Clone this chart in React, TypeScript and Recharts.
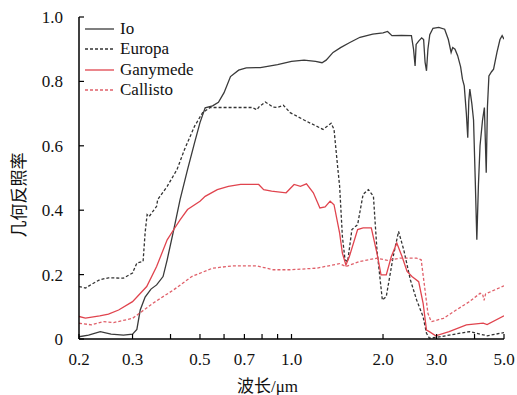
import { LineChart, Line, XAxis, YAxis } from "recharts";

// wavelength (μm) and geometric albedo
const ioWave = [
  0.2, 0.215, 0.235, 0.255, 0.28, 0.3, 0.31, 0.318, 0.33, 0.345, 0.36, 0.378, 0.39, 0.41, 0.43,
  0.455, 0.48, 0.5, 0.52, 0.55, 0.575, 0.6, 0.63, 0.67, 0.71, 0.79, 0.9, 1.0, 1.1, 1.2, 1.26,
  1.3, 1.37, 1.45, 1.55, 1.68, 1.85, 2.0, 2.07, 2.14, 2.3, 2.48, 2.52, 2.55, 2.57, 2.62, 2.68,
  2.72, 2.75, 2.78, 2.81, 2.85, 2.92, 3.05, 3.19, 3.28, 3.35, 3.39, 3.45, 3.52, 3.6, 3.65, 3.7,
  3.76, 3.8, 3.83, 3.86, 3.92, 3.97, 4.02, 4.07, 4.12, 4.17, 4.25, 4.31, 4.34, 4.37, 4.41, 4.46,
  4.55, 4.62, 4.74, 4.85, 4.93, 5.0,
];
const ioAlbedo = [
  0.007, 0.012, 0.023, 0.015, 0.012, 0.015, 0.03, 0.09, 0.13, 0.155, 0.168, 0.194, 0.246, 0.34, 0.433,
  0.526, 0.61, 0.672, 0.718, 0.724, 0.735, 0.765, 0.815, 0.835, 0.842, 0.843, 0.852, 0.862, 0.866, 0.862, 0.858,
  0.866, 0.89, 0.905, 0.92, 0.937, 0.947, 0.951, 0.955, 0.942, 0.943, 0.942, 0.9, 0.848, 0.915, 0.925, 0.935,
  0.93, 0.86, 0.833, 0.9, 0.945, 0.965, 0.968, 0.962, 0.93, 0.89, 0.905, 0.9, 0.88, 0.845, 0.807, 0.786,
  0.7, 0.625, 0.74, 0.776, 0.73, 0.68, 0.5, 0.308, 0.48, 0.6, 0.68, 0.719, 0.62, 0.516, 0.72, 0.817,
  0.83, 0.838, 0.89, 0.93, 0.942, 0.931,
];

const europaWave = [
  0.2, 0.21, 0.22, 0.234, 0.25, 0.28, 0.3, 0.31, 0.325, 0.33, 0.335, 0.34, 0.36, 0.363, 0.39, 0.42,
  0.445, 0.48, 0.51, 0.54, 0.64, 0.74, 0.77, 0.78, 0.82, 0.87, 0.9, 0.94, 0.99, 1.1, 1.27, 1.35,
  1.38, 1.42, 1.44, 1.47, 1.5, 1.53, 1.58, 1.65, 1.72, 1.79, 1.86, 1.91, 1.99, 2.05, 2.16, 2.25,
  2.34, 2.46, 2.58, 2.71, 2.78, 2.84, 3.0, 3.3, 3.85, 4.4, 5.0,
];
const europaAlbedo = [
  0.163, 0.158, 0.17, 0.184, 0.19, 0.189, 0.205, 0.236, 0.241, 0.33, 0.386, 0.38, 0.412, 0.433, 0.474, 0.526,
  0.589, 0.661, 0.703, 0.719, 0.719, 0.719, 0.712, 0.72, 0.736, 0.72, 0.719, 0.726, 0.703, 0.68, 0.651, 0.67,
  0.651, 0.53, 0.474, 0.319, 0.246, 0.24, 0.34, 0.355, 0.449, 0.464, 0.443, 0.277, 0.121, 0.132, 0.256, 0.334,
  0.277, 0.184, 0.121, 0.069, 0.018, 0.003, 0.005, 0.012, 0.023, 0.01, 0.02,
];

const ganymedeWave = [
  0.2, 0.21, 0.234, 0.25, 0.27, 0.3, 0.334, 0.36, 0.39, 0.41, 0.43, 0.455, 0.5, 0.52, 0.57, 0.62,
  0.68, 0.78, 0.81, 0.86, 0.96, 1.02, 1.07, 1.12, 1.18, 1.24, 1.29, 1.34, 1.38, 1.44, 1.47, 1.51,
  1.55, 1.65, 1.72, 1.83, 1.91, 1.97, 2.05, 2.13, 2.22, 2.31, 2.4, 2.49, 2.62, 2.71, 2.78, 2.84,
  2.98, 3.3, 3.76, 4.27, 4.4, 5.0,
];
const ganymedeAlbedo = [
  0.07, 0.065, 0.072, 0.077, 0.09, 0.116, 0.163, 0.225, 0.308, 0.34, 0.37, 0.402, 0.428, 0.443, 0.464, 0.474,
  0.48, 0.48, 0.464, 0.459, 0.454, 0.48, 0.474, 0.482, 0.454, 0.407, 0.41, 0.428, 0.417, 0.329, 0.267, 0.23,
  0.256, 0.34, 0.345, 0.345, 0.267, 0.199, 0.199, 0.256, 0.298, 0.256, 0.21, 0.194, 0.178, 0.111, 0.028, 0.023,
  0.01, 0.023, 0.044, 0.049, 0.045, 0.072,
];

const callistoWave = [
  0.2, 0.22, 0.24, 0.26, 0.3, 0.35, 0.41, 0.47, 0.55, 0.64, 0.77, 0.87, 0.99, 1.21, 1.44, 1.51,
  1.68, 1.91, 2.07, 2.27, 2.58, 2.67, 2.74, 2.81, 2.88, 3.16, 3.48, 3.85, 4.17, 4.25, 4.3, 4.35, 5.0,
];
const callistoAlbedo = [
  0.049, 0.044, 0.054, 0.051, 0.064, 0.111, 0.153, 0.194, 0.22, 0.227, 0.227, 0.215, 0.215, 0.22, 0.234, 0.225,
  0.241, 0.251, 0.244, 0.251, 0.251, 0.246, 0.163, 0.08, 0.054, 0.064, 0.09, 0.116, 0.142, 0.14, 0.12, 0.14, 0.165,
];

const xTicks = [0.2, 0.3, 0.4, 0.5, 0.6, 0.7, 0.8, 0.9, 1, 2, 3, 4, 5];
const xTickLabels = ["0.2", "0.3", "", "0.5", "", "0.7", "", "", "1.0", "2.0", "3.0", "", "5.0"];
const yTicks = [0, 0.2, 0.4, 0.6, 0.8, 1.0];
const yTickLabels = ["0", "0.2", "0.4", "0.6", "0.8", "1.0"];

const toPoints = (wave: number[], albedo: number[]) => wave.map((w, i) => ({ w, a: albedo[i] }));

const series = [
  { name: "Io", data: toPoints(ioWave, ioAlbedo), color: "#3a3a3a", dash: undefined },
  { name: "Europa", data: toPoints(europaWave, europaAlbedo), color: "#333333", dash: "3 2" },
  { name: "Ganymede", data: toPoints(ganymedeWave, ganymedeAlbedo), color: "#e0444e", dash: undefined },
  { name: "Callisto", data: toPoints(callistoWave, callistoAlbedo), color: "#e0606a", dash: "3 2" },
];

const FONT = "'Liberation Serif', 'Times New Roman', 'Noto Sans CJK SC', serif";

const XTick = ({ x, y, index }: any) => (
  <g>
    <line x1={x} x2={x} y1={y} y2={y - 5} stroke="#000" strokeWidth={1.2} />
    <text x={x} y={y + 26} textAnchor="middle" fontSize={17} fontFamily={FONT} fill="#111">
      {xTickLabels[index]}
    </text>
  </g>
);

const YTick = ({ x, y, index }: any) => (
  <g>
    <line x1={x} x2={x + 5} y1={y} y2={y} stroke="#000" strokeWidth={1.2} />
    <text x={x - 16} y={y + 6} textAnchor="end" fontSize={17} fontFamily={FONT} fill="#111">
      {yTickLabels[index]}
    </text>
  </g>
);

// rotated y label, placed from the axis viewBox
const YLabel = ({ viewBox }: any) => {
  const cx = viewBox.x + 19;
  const cy = viewBox.y + viewBox.height / 2 + 17;
  return (
    <text
      x={cx}
      y={cy}
      transform={`rotate(-90, ${cx}, ${cy})`}
      textAnchor="middle"
      dominantBaseline="central"
      fontSize={17}
      fontFamily={FONT}
      fill="#111"
    >
      几何反照率
    </text>
  );
};

export default function App() {
  return (
    <div style={{ position: "absolute", left: 0, top: 0, width: 517, height: 395, background: "#fff" }}>
      <LineChart width={517} height={395} margin={{ top: 17, right: 13, bottom: 0, left: 0 }}>
        <XAxis
          dataKey="w"
          type="number"
          scale="log"
          domain={[0.2, 5]}
          ticks={xTicks}
          interval={0}
          allowDataOverflow
          height={56}
          tickSize={0}
          tickMargin={0}
          tickLine={false}
          tick={<XTick />}
          axisLine={{ stroke: "#000", strokeWidth: 1.5 }}
          label={{ value: "波长/μm", position: "insideBottom", offset: 3, dx: -24, fontSize: 17, fontFamily: FONT, fill: "#111" }}
        />
        <YAxis
          dataKey="a"
          type="number"
          domain={[0, 1]}
          ticks={yTicks}
          interval={0}
          width={79}
          tickSize={0}
          tickMargin={0}
          tickLine={false}
          tick={<YTick />}
          axisLine={{ stroke: "#000", strokeWidth: 1.5 }}
          label={<YLabel />}
        />
        {series.map((s) => (
          <Line
            key={s.name}
            data={s.data}
            dataKey="a"
            name={s.name}
            stroke={s.color}
            strokeWidth={1.3}
            strokeDasharray={s.dash}
            dot={false}
            activeDot={false}
            isAnimationActive={false}
          />
        ))}
      </LineChart>
      <div style={{ position: "absolute", left: 84, top: 19, fontFamily: FONT, fontSize: 17, color: "#111" }}>
        {series.map((s) => (
          <div key={s.name} style={{ display: "flex", alignItems: "center", height: 20.3, lineHeight: "20px" }}>
            <svg width={32} height={10} style={{ marginRight: 4 }}>
              <line x1={1} x2={30} y1={5} y2={5} stroke={s.color} strokeWidth={1.3} strokeDasharray={s.dash} />
            </svg>
            <span>{s.name}</span>
          </div>
        ))}
      </div>
    </div>
  );
}
